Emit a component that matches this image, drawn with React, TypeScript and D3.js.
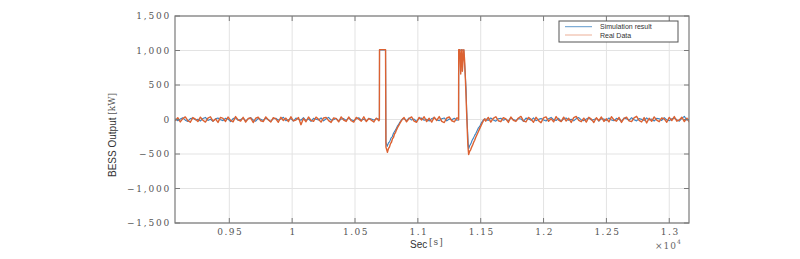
import React from "react";
import * as d3 from "d3";

// ---------- data ----------
const xTicks = [9500, 10000, 10500, 11000, 11500, 12000, 12500, 13000];
const xTickLabels = ["0.95", "1", "1.05", "1.1", "1.15", "1.2", "1.25", "1.3"];
const yTicks = [1500, 1000, 500, 0, -500, -1000, -1500];
const yTickLabels = ["1,500", "1,000", "500", "0", "\u2212500", "\u22121,000", "\u22121,500"];
const seriesNames = ["Simulation result", "Real Data"];

// flat noisy segments: start time, step 20 s
const segAStart = 9070;
const segBStart = 10890;
const segCStart = 11540;
const segStep = 20;

const simA = [12,-18,6,25,-10,-28,14,20,-6,4,-22,15,30,-14,3,-26,9,22,-5,-16,18,7,-30,13,24,-11,0,20,-20,9,28,-7,-24,16,5,-13,22,-3,-28,11,18,-9,7,32,-17,-4,13,-22,20,3,-11,26,-15,9,-26,16,5,-7,24,-20,11,30,-9,-3,18,-24,7,13,-14,22,-5,-18,9,26,-11,3,-20,16,7,-9,13];
const realA = [-20,26,-35,12,38,-16,-40,28,6,-30,34,-10,-38,20,40,-24,8,-42,30,16,-28,36,-12,-34,42,-6,-22,32,-38,14,24,-44,18,34,-18,-30,38,-4,-36,26,10,-40,32,-14,20,-30,40,-20,-8,28,-75,16,-32,36,-12,-26,34,4,-38,22,30,-16,-42,24,12,-34,38,-8,-28,36,-18,-38,30,6,-24,40,-30,14,-10,-36,20];

const simB = [12,-18,24,-8,6,-26,16,20,-12,4,-22,14,26,-6,-16,10,22,-20,8,-4,18,-10];
const realB = [28,-34,14,38,-24,-40,30,-8,40,-30,18,-38,34,-14,42,-28,-44,22,36,-18,-34,24];

const simC = [8,-14,22,-6,-24,12,18,-10,4,-20,26,-2,-16,14,8,-28,20,6,-12,24,-18,2,16,-8,-22,12,30,-4,-14,18,-26,10,22,-12,4,-20,14,28,-6,-16,8,24,-10,-2,18,-24,12,6,-14,22,-8,-18,16,4,-26,20,10,-12,26,-4,-20,14,2,-16,24,-8,6,-22,18,12,-14,28,-6,-18,10,22,-2,-24,16,45,-10,8];
const realC = [-24,30,-38,16,40,-18,-32,26,8,-42,36,-12,-28,22,44,-20,-36,30,4,-40,32,-16,-46,24,38,-26,12,-34,42,-8,-30,34,-22,18,-42,28,44,-14,-32,20,-38,32,6,-44,26,-18,36,-28,10,-34,40,-6,-24,30,-42,16,34,-20,-30,24,46,-12,-36,28,-50,18,-26,38,-10,-32,22,8,-40,30,-16,42,-24,-6,34,-30,20,-38];

// event 1
const simE1T = [10690, 10694, 10695, 10743, 10746, 10756, 10766, 10776, 10786, 10796, 10806, 10816, 10826, 10836, 10846, 10856, 10866, 10876];
const simE1V = [8, 2, 1008, 1008, -330, -390, -340, -320, -270, -250, -200, -170, -140, -100, -75, -40, -15, 5];
const realE1T = [10690, 10694, 10695, 10743, 10746, 10758, 10766, 10774, 10782, 10790, 10798, 10806, 10814, 10822, 10830, 10840, 10850, 10860, 10870, 10878];
const realE1V = [-18, -5, 1012, 1012, -400, -475, -420, -400, -350, -330, -280, -260, -210, -190, -150, -110, -80, -45, -15, 6];

// event 2
const simE2T = [11320, 11324, 11325, 11345, 11365, 11372, 11378, 11384, 11388, 11394, 11400, 11404, 11412, 11422, 11432, 11442, 11452, 11462, 11472, 11482, 11492, 11502, 11512, 11522, 11532];
const simE2V = [-8, 3, 1005, 1005, 1005, 800, 620, 430, 150, -100, -330, -425, -380, -350, -300, -270, -230, -200, -160, -120, -100, -60, -30, -5, 8];
const realE2T = [11320, 11324, 11325, 11334, 11337, 11341, 11344, 11348, 11352, 11354, 11366, 11372, 11378, 11383, 11388, 11393, 11398, 11404, 11412, 11420, 11428, 11436, 11444, 11452, 11460, 11470, 11480, 11490, 11500, 11510, 11520, 11530];
const realE2V = [20, -6, 1012, 1012, 830, 660, 900, 1012, 1012, 700, 1012, 850, 600, 350, 100, -150, -380, -507, -460, -440, -400, -370, -330, -300, -260, -220, -180, -140, -100, -60, -25, 8];

// ---------- helpers ----------
type P = [number, number];
const seg = (start: number, vals: number[]): P[] => vals.map((v, i) => [start + i * segStep, v] as P);
const pts = (ts: number[], vs: number[]): P[] => ts.map((t, i) => [t, vs[i]] as P);

const simData: P[] = [
  ...seg(segAStart, simA),
  ...pts(simE1T, simE1V),
  ...seg(segBStart, simB),
  ...pts(simE2T, simE2V),
  ...seg(segCStart, simC),
];
const realData: P[] = [
  ...seg(segAStart, realA),
  ...pts(realE1T, realE1V),
  ...seg(segBStart, realB),
  ...pts(realE2T, realE2V),
  ...seg(segCStart, realC),
];

const W = 800, H = 259;
const L = 175, R = 689, T = 16, B = 223;
const BLUE = "#3a82c0";
const ORANGE = "#dc6232";
const tickFont = "'DejaVu Serif', serif";

export default function App() {
  const x = d3.scaleLinear().domain([9068, 13157]).range([L, R]);
  const y = d3.scaleLinear().domain([-1500, 1500]).range([B, T]);
  const line = d3.line<P>().x(d => x(d[0])).y(d => y(d[1]));
  const tl = 5;

  return (
    <svg width={W} height={H} style={{ position: "absolute", left: 0, top: 0, background: "#fff" }}>
      <rect x={0} y={0} width={W} height={H} fill="#fff" />
      {/* grid */}
      {xTicks.map(t => (
        <line key={"gx" + t} x1={x(t)} x2={x(t)} y1={T} y2={B} stroke="#e3e3e3" strokeWidth={1} />
      ))}
      {yTicks.map(t => (
        <line key={"gy" + t} x1={L} x2={R} y1={y(t)} y2={y(t)} stroke="#e3e3e3" strokeWidth={1} />
      ))}
      <defs>
        <clipPath id="plotclip">
          <rect x={L} y={T} width={R - L} height={B - T} />
        </clipPath>
      </defs>
      <g clipPath="url(#plotclip)">
        <path d={line(simData) || ""} fill="none" stroke={BLUE} strokeWidth={1.1} strokeLinejoin="round" />
        <path d={line(realData) || ""} fill="none" stroke={ORANGE} strokeWidth={1.4} strokeLinejoin="round" />
      </g>
      {/* box */}
      <rect x={L} y={T} width={R - L} height={B - T} fill="none" stroke="#7a7a7a" strokeWidth={1.2} />
      {/* ticks inside */}
      {xTicks.map(t => (
        <g key={"tx" + t}>
          <line x1={x(t)} x2={x(t)} y1={B} y2={B - tl} stroke="#7a7a7a" />
          <line x1={x(t)} x2={x(t)} y1={T} y2={T + tl} stroke="#7a7a7a" />
        </g>
      ))}
      {yTicks.map(t => (
        <g key={"ty" + t}>
          <line x1={L} x2={L + tl} y1={y(t)} y2={y(t)} stroke="#7a7a7a" />
          <line x1={R} x2={R - tl} y1={y(t)} y2={y(t)} stroke="#7a7a7a" />
        </g>
      ))}
      {/* tick labels */}
      {xTicks.map((t, i) => (
        <text key={"lx" + t} x={x(t) + 1} y={235} textAnchor="middle" fontFamily={tickFont} fontSize={9}
          letterSpacing={1.5} fill="#555">{xTickLabels[i]}</text>
      ))}
      {yTicks.map((t, i) => (
        <text key={"ly" + t} x={171} y={y(t) + 3} textAnchor="end" fontFamily={tickFont} fontSize={9}
          letterSpacing={1.8} fill="#555">{yTickLabels[i]}</text>
      ))}
      {/* x label */}
      <text x={410} y={248} fontFamily="'Liberation Sans', Arial, sans-serif" fontSize={10} fill="#333">Sec</text>
      <text x={429} y={245} fontFamily={tickFont} fontSize={9} letterSpacing={1} fill="#555">[s]</text>
      {/* x10^4 */}
      <text x={655} y={249} fontFamily={tickFont} fontSize={9} letterSpacing={1} fill="#666">×10</text>
      <text x={677} y={244} fontFamily={tickFont} fontSize={6} fill="#666">4</text>
      {/* y label */}
      <g transform="translate(116,135) rotate(-90)">
        <text x={0} y={0} textAnchor="middle" fontFamily="'Liberation Sans', Arial, sans-serif" fontSize={10} fill="#333">
          <tspan>BESS Output </tspan>
          <tspan fontFamily={tickFont} fontSize={9} fill="#555" dy={-1}>[kW]</tspan>
        </text>
      </g>
      {/* legend */}
      <rect x={559} y={21} width={119} height={21} fill="#fff" stroke="#555" strokeWidth={1} />
      <line x1={565} x2={592} y1={26.7} y2={26.7} stroke={BLUE} strokeWidth={1} opacity={0.8} />
      <line x1={565} x2={592} y1={35} y2={35} stroke={ORANGE} strokeWidth={1} opacity={0.5} />
      <text x={600} y={29.3} fontFamily="'Liberation Sans', Arial, sans-serif" fontSize={7} fill="#333">{seriesNames[0]}</text>
      <text x={600} y={37.5} fontFamily="'Liberation Sans', Arial, sans-serif" fontSize={7} fill="#333">{seriesNames[1]}</text>
    </svg>
  );
}
